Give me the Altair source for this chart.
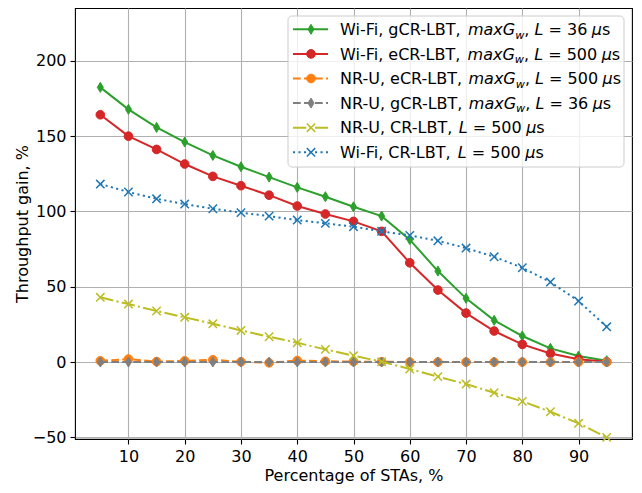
import altair as alt
import pandas as pd

# ---------------- data ----------------
pct = [5, 10, 15, 20, 25, 30, 35, 40, 45, 50, 55, 60, 65, 70, 75, 80, 85, 90, 95]

wifi_gcr_36 = [182.4, 167.8, 155.8, 146.1, 137.2, 129.7, 122.8, 116.0, 109.8, 103.1,
               96.9, 81.3, 60.4, 42.3, 27.7, 17.3, 9.1, 4.0, 0.9]
wifi_ecr_500 = [164.2, 150.0, 141.2, 131.5, 123.3, 117.1, 110.8, 103.6, 98.3, 93.4,
                86.8, 65.9, 47.8, 32.5, 20.6, 11.7, 5.7, 1.8, 0.2]
nru_ecr_500 = [0.8, 2.0, 0.3, 0.8, 1.5, 0.2, -0.5, 1.0, 0.5, 0.3,
               0.2, 0.0, 0.0, 0.0, 0.0, 0.0, 0.0, 0.0, 0.0]
nru_gcr_36 = [0.0, 0.0, 0.0, 0.0, 0.0, 0.0, 0.0, 0.0, 0.0, 0.0,
              0.0, 0.0, 0.0, 0.0, 0.0, 0.0, 0.0, 0.0, 0.0]
nru_cr_500 = [43.0, 38.5, 33.9, 29.7, 25.4, 21.0, 16.8, 12.8, 8.4, 4.2,
              0.2, -4.6, -9.7, -14.6, -20.4, -26.1, -33.0, -40.7, -50.0]
wifi_cr_500 = [118.2, 112.9, 108.4, 104.9, 101.8, 99.2, 96.9, 94.3, 92.1, 89.9,
               86.8, 84.1, 80.5, 75.7, 69.9, 62.6, 53.1, 40.5, 23.4]

x_ticks = [10, 20, 30, 40, 50, 60, 70, 80, 90]
y_ticks = [-50, 0, 50, 100, 150, 200]
x_title = "Percentage of STAs, %"
y_title = "Throughput gain, %"

# ---------------- styling ----------------
FONT = "DejaVu Sans"
FS = 16
W, H = 557, 431
xscale = alt.Scale(domain=[0.5, 99.5], nice=False, zero=False)
yscale = alt.Scale(domain=[-51.1, 235.1], nice=False, zero=False)

THIN_DIAMOND = "M0,-1L0.6,0L0,1L-0.6,0Z"
XMARK = "M-1,-1L1,1M1,-1L-1,1"

DASHED = [7.7, 3.3]
DASHDOT = [13.3, 3.3, 2.1, 3.3]
DOTTED = [2.1, 3.4]


def lbl(prefix, with_g, num):
    segs = [(prefix, "n")]
    if with_g:
        segs += [("maxG", "i"), ("w", "sub"), (",", "n"), ("sp", "sp")]
    segs += [("L", "i"), ("sp", "sp"), ("=", "n"), ("sp", "sp"), (num, "n"),
             ("", "thin"), ("\u03bc", "i"), ("s", "n")]
    return segs


series = [
    # values, color, dash, shape, size, filled, legend segments
    (wifi_gcr_36, "#2ca02c", None, THIN_DIAMOND, 100, True, lbl("Wi-Fi, gCR-LBT, ", True, "36")),
    (wifi_ecr_500, "#d62728", None, "circle", 75, True, lbl("Wi-Fi, eCR-LBT, ", True, "500")),
    (nru_ecr_500, "#ff7f0e", DASHED, "circle", 75, True, lbl("NR-U, eCR-LBT, ", True, "500")),
    (nru_gcr_36, "#7f7f7f", DASHED, THIN_DIAMOND, 100, True, lbl("NR-U, gCR-LBT, ", True, "36")),
    (nru_cr_500, "#bcbd22", DASHDOT, XMARK, 70, False, lbl("NR-U, CR-LBT, ", False, "500")),
    (wifi_cr_500, "#1f77b4", DOTTED, XMARK, 70, False, lbl("Wi-Fi, CR-LBT, ", False, "500")),
]

xaxis = alt.Axis(values=x_ticks, title=x_title, grid=True)
yaxis = alt.Axis(values=y_ticks, title=y_title, grid=True)


def mark_point_style(color, shape, size, filled):
    if filled:
        return dict(shape=shape, size=size, filled=True, fill=color, stroke=color,
                    strokeWidth=1, opacity=1)
    return dict(shape=shape, size=size, filled=False, stroke=color, strokeWidth=1.5,
                opacity=1)


layers = []
for vals, color, dash, shape, size, filled, _ in series:
    df = pd.DataFrame({"x": pct, "y": vals})
    base = alt.Chart(df)
    line_kw = dict(color=color, strokeWidth=2, clip=True)
    if dash is not None:
        line_kw["strokeDash"] = dash
    enc = dict(x=alt.X("x:Q", scale=xscale, axis=xaxis),
               y=alt.Y("y:Q", scale=yscale, axis=yaxis))
    layers.append(base.mark_line(**line_kw).encode(**enc))
    layers.append(base.mark_point(**mark_point_style(color, shape, size, filled)).encode(**enc))

# ---------------- hand-built legend (matches matplotlib look) ----------------
dummy = alt.Chart(pd.DataFrame({"d": [0]}))

# DejaVu Sans advance widths (units per 2048 em)
ADV = {" ": 651, ",": 651, "-": 739, "=": 1716, "0": 1303, "3": 1303, "5": 1303,
       "6": 1303, "B": 1405, "C": 1430, "F": 1178, "G": 1587, "L": 1141, "N": 1532,
       "R": 1423, "T": 1251, "U": 1499, "W": 2025, "a": 1255, "e": 1260, "g": 1300,
       "i": 569, "m": 1995, "s": 1067, "w": 1675, "x": 1212, "\u03bc": 1300}


def text_width(s, size):
    return sum(ADV.get(c, 1250) for c in s) / 2048.0 * size


box_x0, box_x1, box_y0, box_y1 = 213, 549, 8, 159
row_y0, row_dy = 21.3, 24.6
sample_x0, sample_x1, marker_x, text_x0 = 218, 253, 236, 265

layers.append(dummy.mark_rect(fill="white", fillOpacity=0.8, stroke="#cccccc",
                              strokeWidth=1, cornerRadius=4).encode(
    x=alt.value(box_x0), x2=alt.value(box_x1), y=alt.value(box_y0), y2=alt.value(box_y1)))

for i, (vals, color, dash, shape, size, filled, segs) in enumerate(series):
    ry = row_y0 + i * row_dy
    rule_kw = dict(color=color, strokeWidth=2)
    if dash is not None:
        rule_kw["strokeDash"] = dash
    layers.append(dummy.mark_rule(**rule_kw).encode(
        x=alt.value(sample_x0), x2=alt.value(sample_x1), y=alt.value(ry)))
    layers.append(dummy.mark_point(**mark_point_style(color, shape, size, filled)).encode(
        x=alt.value(marker_x), y=alt.value(ry)))
    cx = text_x0
    base_y = ry + 5.7
    for s, kind in segs:
        if kind == "thin":
            cx += FS * 0.28
            continue
        if kind == "sp":
            cx += text_width(" ", FS)
            continue
        if kind == "sub":
            fs, style, yy = FS * 0.7, "italic", base_y + 3.5
        else:
            fs, style, yy = FS, ("italic" if kind == "i" else "normal"), base_y
        layers.append(dummy.mark_text(align="left", baseline="alphabetic", font=FONT,
                                      fontSize=fs, fontStyle=style, color="black").encode(
            x=alt.value(cx), y=alt.value(yy), text=alt.value(s)))
        cx += text_width(s, fs)

chart = alt.layer(*layers).properties(
    width=W, height=H,
    autosize=alt.AutoSizeParams(type="none"),
    padding={"left": 67, "top": 0, "right": 2, "bottom": 46},
).configure_view(
    stroke="black", strokeWidth=1.1
).configure_axis(
    labelFont=FONT, titleFont=FONT, labelFontSize=FS, titleFontSize=FS,
    labelColor="black", titleColor="black", titleFontWeight="normal",
    tickColor="black", tickSize=5, tickWidth=1.1, labelPadding=4,
    domain=False, gridColor="#b0b0b0", gridWidth=1.1, gridOpacity=1,
).configure_axisY(
    titlePadding=2, labelFlush=False
).configure_axisX(
    titlePadding=3, labelFlush=False
)

chart.save("out.html", embed_options={"renderer": "svg", "actions": False})
